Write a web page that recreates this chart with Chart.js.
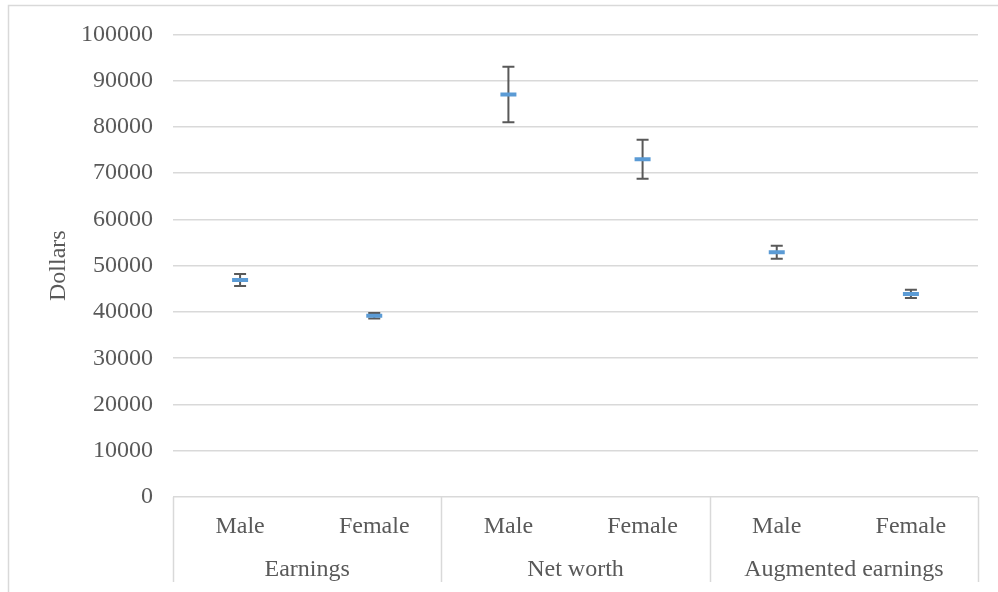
<!DOCTYPE html>
<html>
<head>
<meta charset="utf-8">
<script src="https://cdn.jsdelivr.net/npm/chart.js@4"></script>
<style>
  html, body { margin: 0; padding: 0; background: #fff; overflow: hidden; }
  #wrap { position: relative; width: 998px; height: 592px; }
</style>
</head>
<body>
<div id="wrap"><canvas id="chart"></canvas></div>
<script>
// categories
const subLabels = ['Male', 'Female', 'Male', 'Female', 'Male', 'Female'];
const groupLabels = ['Earnings', 'Net worth', 'Augmented earnings'];
const groupSizes = [2, 2, 2];
// mean values and error margins (dollars)
const means = [46900, 39200, 87000, 73000, 52900, 43900];
const errors = [1300, 600, 6000, 4200, 1400, 900];

const textColor = '#595959';
const lineColor = '#d9d9d9';
const serif = "'Liberation Serif', 'Times New Roman', serif";
const fontSize = 24;

// Draw error bars under the markers
const errorBars = {
    id: 'errorBars',
    beforeDatasetsDraw(chart) {
        const ctx = chart.ctx;
        const x = chart.scales.x;
        const y = chart.scales.y;
        ctx.save();
        ctx.strokeStyle = '#595959';
        ctx.lineWidth = 2;
        means.forEach(function (m, i) {
            const px = x.getPixelForValue(i);
            const top = y.getPixelForValue(m + errors[i]);
            const bot = y.getPixelForValue(m - errors[i]);
            ctx.beginPath();
            ctx.moveTo(px, top);
            ctx.lineTo(px, bot);
            ctx.moveTo(px - 6, top);
            ctx.lineTo(px + 6, top);
            ctx.moveTo(px - 6, bot);
            ctx.lineTo(px + 6, bot);
            ctx.stroke();
        });
        ctx.restore();
    }
};

// Outer frame, group separators and group labels
const groupAxis = {
    id: 'groupAxis',
    beforeDraw(chart) {
        const ctx = chart.ctx;
        ctx.save();
        ctx.strokeStyle = lineColor;
        ctx.lineWidth = 1.5;
        ctx.strokeRect(8.5, 5.5, 1100, 700);
        ctx.restore();
    },
    afterDraw(chart) {
        const ctx = chart.ctx;
        const x = chart.scales.x;
        const area = chart.chartArea;
        const step = x.getPixelForValue(1) - x.getPixelForValue(0);
        ctx.save();
        ctx.strokeStyle = lineColor;
        ctx.lineWidth = 1.5;
        ctx.fillStyle = textColor;
        ctx.font = fontSize + 'px ' + serif;
        ctx.textAlign = 'center';
        ctx.textBaseline = 'middle';
        let start = 0;
        const edges = [area.left];
        groupSizes.forEach(function (n, g) {
            const left = x.getPixelForValue(start) - step / 2;
            const right = x.getPixelForValue(start + n - 1) + step / 2;
            edges.push(right);
            ctx.fillText(groupLabels[g], (left + right) / 2, 570);
            start += n;
        });
        edges.forEach(function (ex) {
            ctx.beginPath();
            ctx.moveTo(Math.round(ex) + 0.5, area.bottom);
            ctx.lineTo(Math.round(ex) + 0.5, 582);
            ctx.stroke();
        });
        ctx.restore();
    }
};

new Chart(document.getElementById('chart'), {
    type: 'line',
    data: {
        labels: subLabels,
        datasets: [{
            data: means,
            showLine: false,
            pointStyle: 'line',
            pointRadius: 8,
            pointHoverRadius: 8,
            pointBorderWidth: 4,
            pointBorderColor: '#5B9BD5',
            borderColor: '#5B9BD5',
            backgroundColor: '#5B9BD5'
        }]
    },
    options: {
        responsive: true,
        maintainAspectRatio: false,
        animation: false,
        events: [],
        layout: { padding: { left: 0, top: 34, right: 20, bottom: 0 } },
        plugins: {
            legend: { display: false },
            tooltip: { enabled: false }
        },
        scales: {
            x: {
                offset: true,
                grid: { display: false, drawTicks: false },
                border: { display: false },
                ticks: {
                    color: textColor,
                    font: { family: serif, size: fontSize },
                    padding: 15,
                    maxRotation: 0
                },
                afterFit(scale) { scale.height = 95; }
            },
            y: {
                min: 0,
                max: 100000,
                grid: { color: lineColor, lineWidth: 1.5, drawTicks: false },
                border: { display: false },
                ticks: {
                    stepSize: 10000,
                    color: textColor,
                    font: { family: serif, size: fontSize },
                    padding: 20,
                    callback: function (value) { return String(value); }
                },
                title: {
                    display: true,
                    text: 'Dollars',
                    color: textColor,
                    font: { family: serif, size: fontSize },
                    padding: { top: 44, bottom: 0 }
                },
                afterFit(scale) { scale.width = 173; }
            }
        }
    },
    plugins: [errorBars, groupAxis]
});
</script>
</body>
</html>
